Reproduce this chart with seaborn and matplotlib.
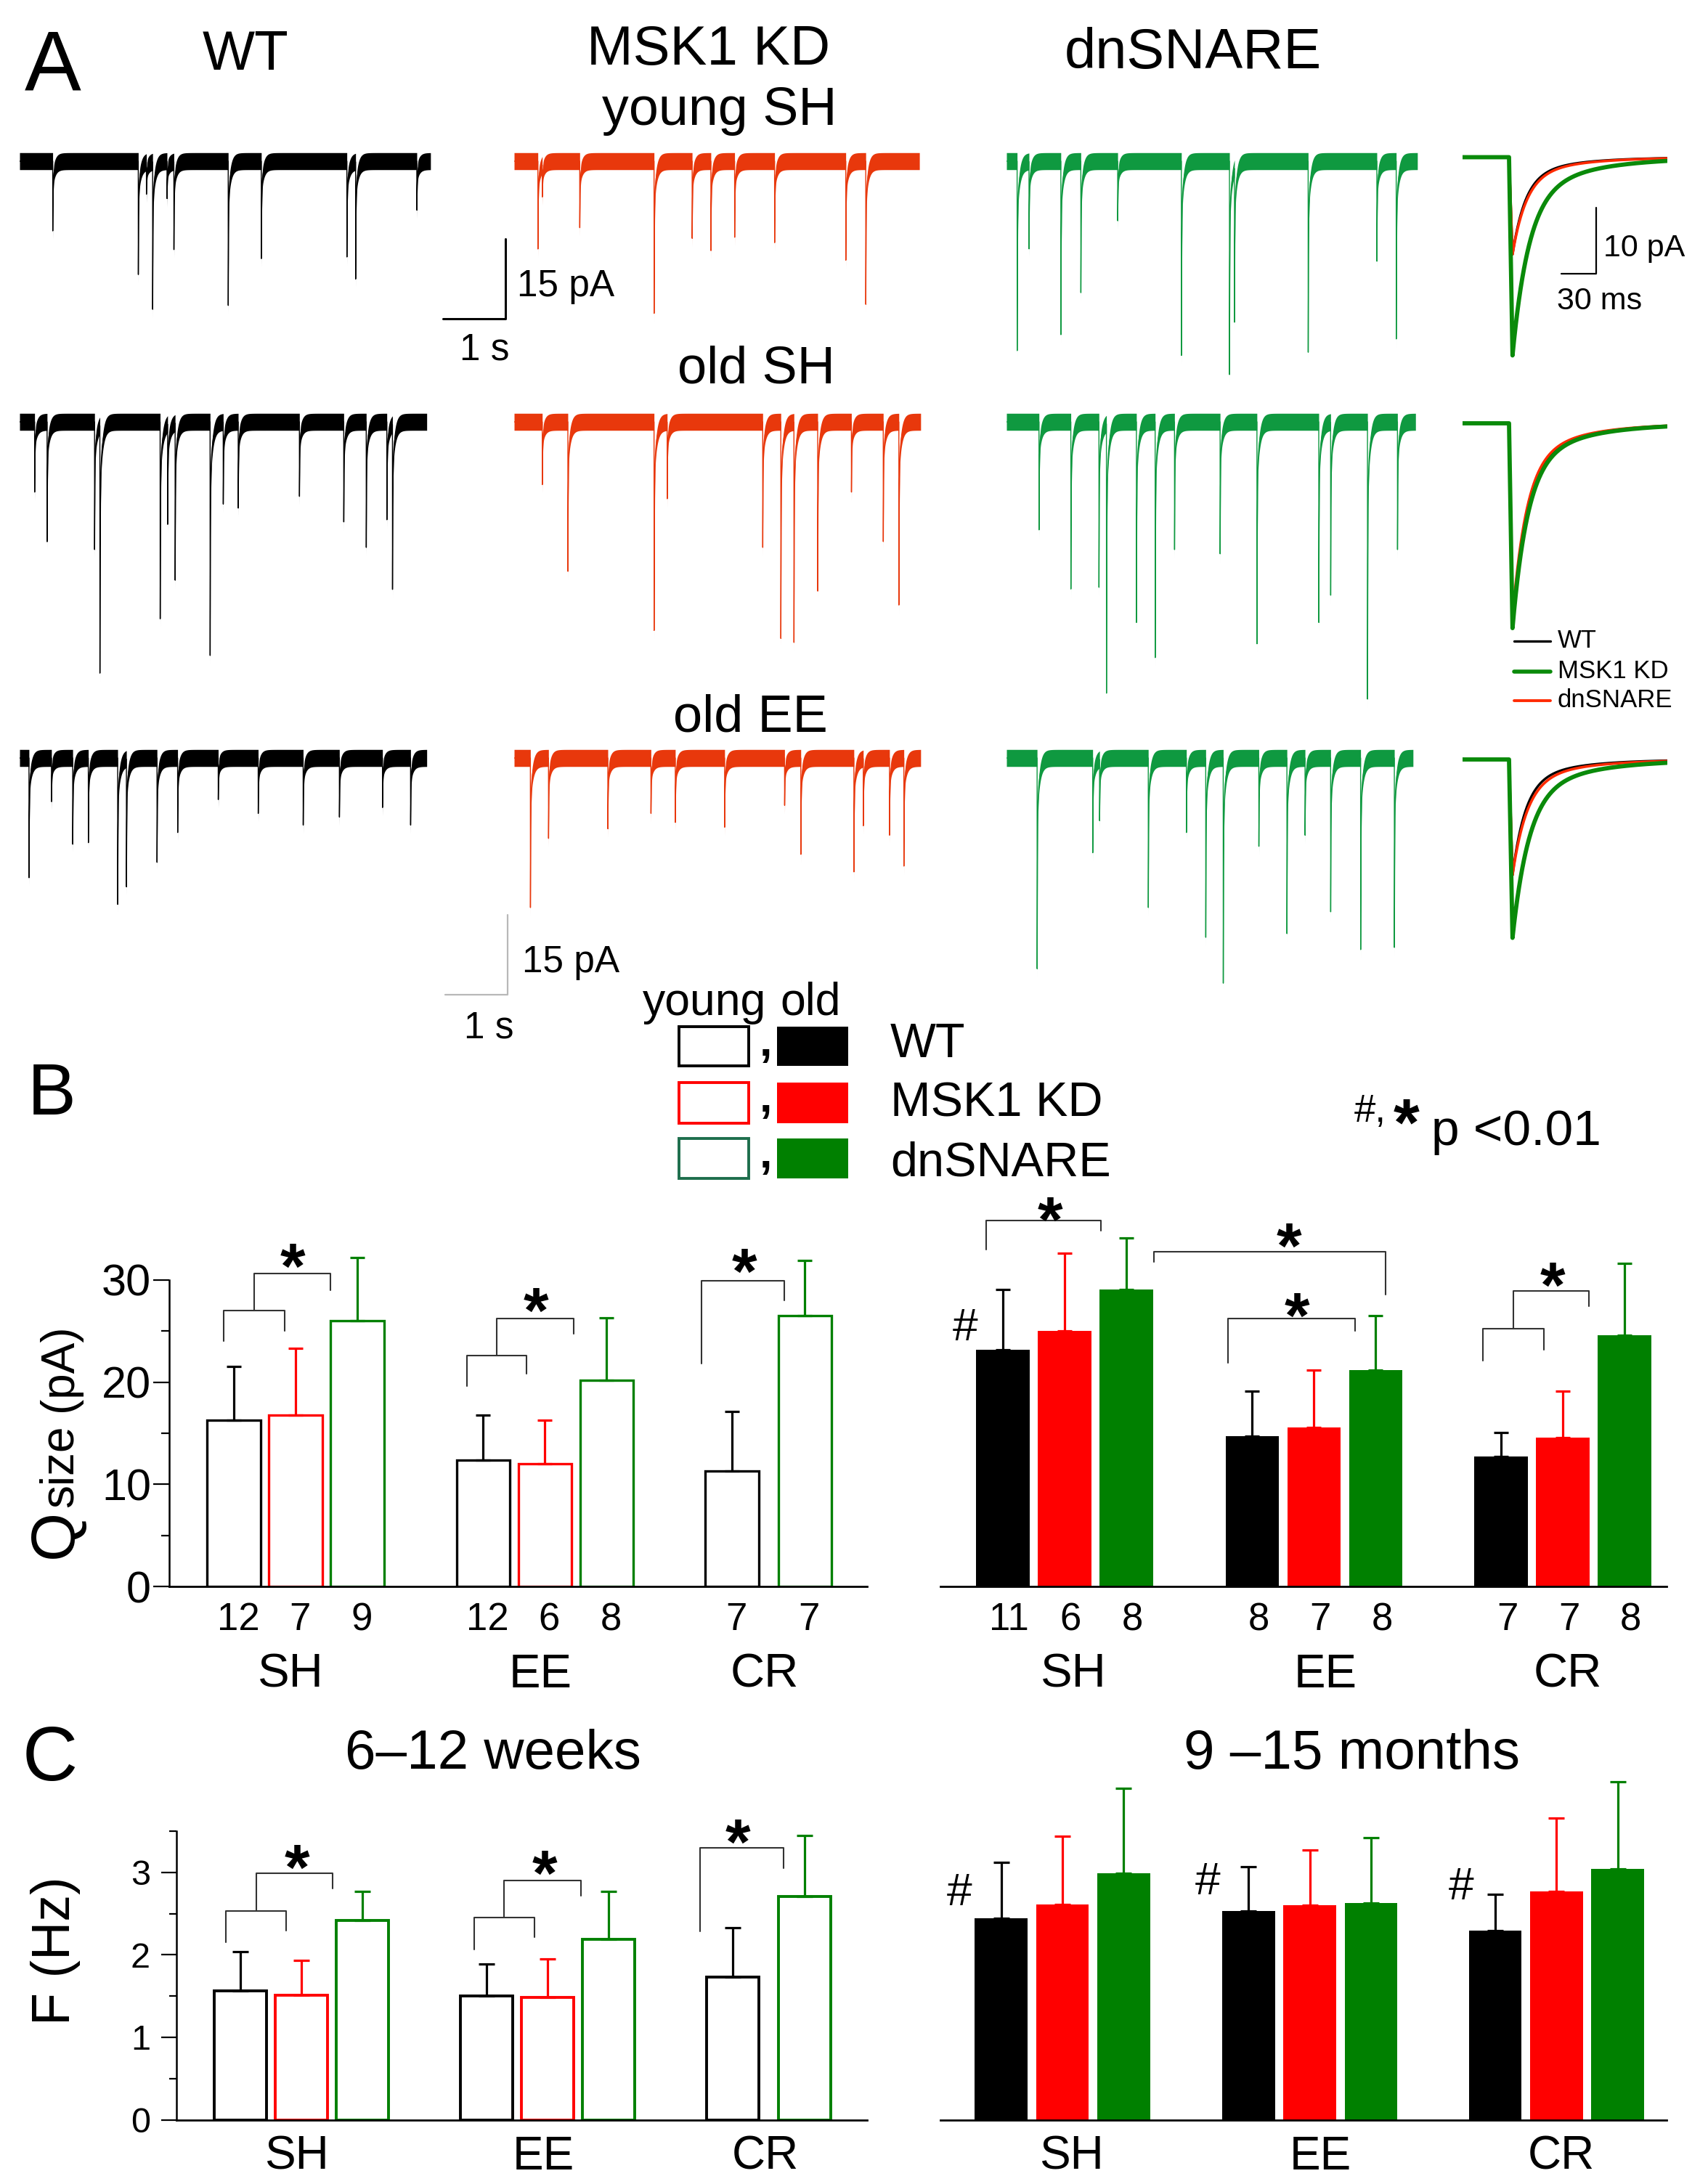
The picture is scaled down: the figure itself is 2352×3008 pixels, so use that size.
import numpy as np
import pandas as pd
import matplotlib
matplotlib.use("Agg")
import matplotlib.pyplot as plt
import seaborn as sns
from matplotlib.patches import Rectangle

# ---------------- data ----------------
genotypes = ["WT", "MSK1 KD", "dnSNARE"]
conditions = ["SH", "EE", "CR"]

# panel B, quantal size (pA) - young (6-12 weeks)
qy_geno = ["WT", "MSK1 KD", "dnSNARE", "WT", "MSK1 KD", "dnSNARE", "WT", "dnSNARE"]
qy_mean = [16.3, 16.8, 26.0, 12.4, 12.0, 20.2, 11.3, 26.5]
qy_err = [5.2, 6.5, 6.2, 4.4, 4.3, 6.1, 5.8, 5.4]
qy_n = [12, 7, 9, 12, 6, 8, 7, 7]

# panel B - old (9-15 months)
qo_geno = ["WT", "MSK1 KD", "dnSNARE"] * 3
qo_mean = [23.2, 25.0, 29.1, 14.7, 15.6, 21.2, 12.7, 14.6, 24.6]
qo_err = [5.9, 7.6, 5.0, 4.4, 5.6, 5.3, 2.4, 4.5, 7.0]
qo_n = [11, 6, 8, 8, 7, 8, 7, 7, 8]

# panel C, frequency (Hz)
fy_mean = [1.56, 1.51, 2.42, 1.50, 1.48, 2.19, 1.73, 2.71]
fy_err = [0.48, 0.42, 0.35, 0.39, 0.47, 0.58, 0.60, 0.74]
fo_mean = [2.44, 2.61, 2.99, 2.53, 2.60, 2.63, 2.29, 2.77, 3.04]
fo_err = [0.68, 0.83, 1.03, 0.54, 0.67, 0.79, 0.44, 0.89, 1.06]

# panel A, mEPSC events: (time s, amplitude pA)
ev_wt_ysh = [(0.53, 13.1), (1.90, 21.3), (2.03, 6.0), (2.13, 27.7), (2.36, 7.0), (2.47, 16.5),
             (3.34, 27.1), (3.87, 18.3), (5.24, 18.0), (5.38, 22.0), (6.36, 9.2)]
ev_msk_ysh = [(0.38, 16.5), (0.45, 6.0), (1.05, 12.5), (2.24, 28.6), (2.85, 14.5), (3.15, 16.8),
              (3.53, 14.3), (4.17, 15.3), (5.31, 18.6), (5.63, 26.9)]
ev_dn_ysh = [(0.17, 35.6), (0.36, 16.4), (0.87, 32.6), (1.19, 24.7), (1.78, 11.2), (2.80, 36.5),
             (3.57, 40.1), (3.65, 28.9), (4.83, 35.9), (5.93, 18.8), (6.24, 33.4)]
ev_wt_osh = [(0.24, 13.2), (0.44, 22.5), (1.20, 24.0), (1.285, 46.5), (2.25, 37.0), (2.37, 18.8),
             (2.49, 29.5), (3.05, 43.9), (3.26, 15.4), (3.50, 16.2), (4.48, 14.0), (5.19, 18.8),
             (5.55, 23.6), (5.88, 18.4), (5.97, 31.0)]
ev_msk_osh = [(0.45, 11.8), (0.86, 28.1), (2.24, 39.2), (2.45, 14.4), (3.98, 23.6), (4.27, 40.7),
              (4.48, 41.4), (4.86, 31.8), (5.40, 13.2), (5.91, 22.5), (6.16, 34.4)]
ev_dn_osh = [(0.52, 20.3), (1.03, 31.4), (1.48, 31.1), (1.60, 50.6), (2.08, 37.7), (2.38, 44.3),
             (2.69, 24.0), (3.42, 24.8), (4.01, 41.7), (5.00, 37.7), (5.19, 32.5), (5.78, 52.1),
             (6.26, 24.0)]
ev_wt_oee = [(0.15, 22.5), (0.51, 8.2), (0.85, 16.2), (1.10, 15.9), (1.57, 27.5), (1.71, 24.0),
             (2.20, 19.6), (2.53, 14.0), (3.18, 7.8), (3.82, 10.4), (4.54, 12.6), (5.12, 11.1),
             (5.81, 9.3), (6.26, 12.6)]
ev_msk_oee = [(0.26, 28.1), (0.55, 15.1), (1.50, 13.3), (2.19, 10.4), (2.58, 12.1), (3.37, 13.0),
              (4.33, 8.9), (4.59, 18.1), (5.44, 21.4), (5.59, 12.6), (6.01, 14.5), (6.24, 20.3)]
ev_dn_oee = [(0.49, 39.6), (1.38, 17.8), (1.49, 11.5), (2.27, 28.1), (2.88, 14.0), (3.19, 33.7),
             (3.47, 42.3), (4.04, 16.6), (4.49, 33.0), (4.78, 14.5), (5.19, 28.9), (5.67, 36.0),
             (6.21, 35.6)]
trace_dur = [[6.58, 6.49, 6.58], [6.52, 6.51, 6.55], [6.52, 6.51, 6.51]]

# averaged mEPSCs per row (peak pA, decay tau ms)
avg_amp_wt = [14.7, 31.0, 17.5]
avg_amp_msk = [30.0, 31.0, 27.0]
avg_amp_dn = [14.7, 29.5, 17.5]
avg_tau_wt = [11, 12, 11]
avg_tau_msk = [14, 13, 14]
avg_tau_dn = [12, 12, 12.5]

# ---------------- style ----------------
sns.set_theme(style="ticks", rc={"axes.edgecolor": "black", "text.color": "black",
                                 "xtick.color": "black", "ytick.color": "black",
                                 "axes.labelcolor": "black"})
plt.rcParams["font.family"] = ["Liberation Sans", "DejaVu Sans"]

W, H, DPI = 2352, 3008, 100
bar_pal = {"WT": "#000000", "MSK1 KD": "#ff0000", "dnSNARE": "#008000"}
trace_col = ["#000000", "#e8380c", "#0f9940"]
avg_col = {"WT": "#000000", "MSK1 KD": "#0a8a0a", "dnSNARE": "#ff2a00"}
br_col = "#333333"

fig = plt.figure(figsize=(W / DPI, H / DPI), dpi=DPI)
ov = fig.add_axes([0, 0, 1, 1], zorder=-1)
ov.set_xlim(0, W)
ov.set_ylim(H, 0)
ov.axis("off")


def txt(x, y, s, fs, ha="left", va="baseline", **kw):
    ov.text(x, y, s, fontsize=fs, ha=ha, va=va, **kw)


def px_axes(left, base, xspan, px_x, px_y, ylo, yhi):
    top = base - yhi * px_y
    bot = base - ylo * px_y
    ax = fig.add_axes([left / W, 1 - bot / H, xspan * px_x / W, (bot - top) / H])
    ax.set_xlim(0, xspan)
    ax.set_ylim(ylo, yhi)
    ax.axis("off")
    ax.patch.set_alpha(0)
    return ax


# ---------------- panel A: raw traces ----------------
PX_S, PX_PA = 86.0, 7.33
DT, RISE, TAU_F, TAU_S = 0.0005, 0.001, 0.005, 0.04
NOISE = 1.6


def event_trace(events, dur):
    t = np.arange(0, dur, DT)
    y = np.zeros_like(t)
    for t0, a in events:
        s = t - t0
        d = np.clip(s - RISE, 0, None)
        k = np.where(s < 0, 0.0, np.where(s < RISE, s / RISE,
                     0.75 * np.exp(-d / TAU_F) + 0.25 * np.exp(-d / TAU_S)))
        y -= a * k
    return t, y


rows = [[ev_wt_ysh, ev_msk_ysh, ev_dn_ysh],
        [ev_wt_osh, ev_msk_osh, ev_dn_osh],
        [ev_wt_oee, ev_msk_oee, ev_dn_oee]]
col_left = [27, 708, 1386]
row_base = [222, 581, 1044]
trace_axes = {}
for r, row in enumerate(rows):
    for c, evs in enumerate(row):
        ax = px_axes(col_left[c], row_base[r], trace_dur[r][c], PX_S, PX_PA, -60, 8)
        t, y = event_trace(evs, trace_dur[r][c])
        ax.fill_between(t, y - NOISE, y + NOISE, color=trace_col[c], lw=0)
        ax.plot(t, y, color=trace_col[c], lw=1.0)
        trace_axes[(r, c)] = ax

# scale bars (1 s, 15 pA)
a1 = trace_axes[(0, 0)]
a1.plot([6.78, 7.78, 7.78], [-29.6, -29.6, -14.6], color="black", lw=2.2, clip_on=False)
a3 = trace_axes[(2, 0)]
a3.plot([6.81, 7.81, 7.81], [-44.5, -44.5, -29.5], color="#b8b8b8", lw=1.6, clip_on=False)

# averaged traces
PX_MS, PX_PA_AVG = 1.6, 9.1
AVG_ONSET, AVG_RISE = 40.0, 3.0
avg_base = [216.5, 583, 1046]


def avg_wave(t, amp, tau):
    s = t - AVG_ONSET
    rise = np.clip(s / AVG_RISE, 0, 1)
    d = np.clip(s - AVG_RISE, 0, None)
    decay = 0.8 * np.exp(-d / tau) + 0.2 * np.exp(-d / (4 * tau))
    return -amp * rise * decay


t_avg = np.arange(0, 176, 0.2)
avg_axes = []
for r in range(3):
    ax = px_axes(2014, avg_base[r], 176, PX_MS, PX_PA_AVG, -34, 4)
    for name, amps, taus, lw in [("WT", avg_amp_wt, avg_tau_wt, 2.4),
                                 ("dnSNARE", avg_amp_dn, avg_tau_dn, 2.6),
                                 ("MSK1 KD", avg_amp_msk, avg_tau_msk, 4.2)]:
        ax.plot(t_avg, avg_wave(t_avg, amps[r], taus[r]), color=avg_col[name], lw=lw,
                solid_capstyle="round")
    avg_axes.append(ax)
avg_axes[0].plot([85, 115, 115], [-17.6, -17.6, -7.6], color="black", lw=1.6, clip_on=False)

# legend of averaged traces
for yy, name, lw in [(883, "WT", 2.4), (925, "MSK1 KD", 4.0), (965, "dnSNARE", 2.8)]:
    ov.plot([2085, 2135], [yy, yy], color=avg_col[name], lw=lw)
    txt(2145, yy, name, 25, va="center")

# panel A texts
txt(34, 125, "A", 84)
txt(338, 96, "WT", 55, ha="center")
txt(976, 89, "MSK1 KD", 55, ha="center")
txt(991, 172, "young SH", 53, ha="center")
txt(1643, 94, "dnSNARE", 56, ha="center")
txt(1041, 527, "old SH", 52, ha="center")
txt(1033, 1007, "old EE", 52, ha="center")
txt(712, 408, "15 pA", 37)
txt(667, 495, "1 s", 37, ha="center")
txt(719, 1339, "15 pA", 37)
txt(673, 1430, "1 s", 37, ha="center")
txt(2208, 353, "10 pA", 31)
txt(2203, 426, "30 ms", 31, ha="center")

# ---------------- legend for B/C ----------------
txt(38, 1535, "B", 72)
txt(970, 1398, "young", 45, ha="center")
txt(1116, 1398, "old", 45, ha="center")
leg_rows = [(1414, 54, "WT", "#000000", "#000000", 1456),
            (1491, 56, "MSK1 KD", "#ff0000", "#ff0000", 1538),
            (1568, 55, "dnSNARE", "#1d6e4c", "#008000", 1619)]
for top, h, name, ec, fc, base in leg_rows:
    ov.add_patch(Rectangle((935, top), 96, h, fill=False, edgecolor=ec, lw=2.8))
    ov.add_patch(Rectangle((1070, top), 98, h, facecolor=fc, edgecolor="none"))
    txt(1054, top + 40, ",", 45, ha="center", fontweight="bold")
    txt(1226, base, name, 48)
txt(1865, 1545, "#,", 38)
ov.annotate("*", xy=(1937, 1525), xytext=(0, -0.57 * 66), textcoords="offset points",
            ha="center", va="baseline", fontsize=66, fontweight="bold")
txt(1971, 1577, "p <0.01", 50)

# ---------------- bar panels ----------------
young_pos = [-1, 0, 1, 3.04, 4.04, 5.04, 7.07, 8.25]
old_pos = [-1, 0, 1, 3.04, 4.04, 5.04, 7.07, 8.07, 9.07]
young_lab = [-0.08, 3.97, 7.6]
old_lab = [0.15, 4.22, 8.15]


def bar_panel(geom, pos, genos, means, errs, filled, edge_lw, cap):
    left, right, x0, slot, zero, unit, ytop = geom
    top = zero - ytop * unit
    ax = fig.add_axes([left / W, 1 - zero / H, (right - left) / W, (zero - top) / H])
    df = pd.DataFrame({"pos": pos, "mean": means, "geno": genos})
    sns.barplot(data=df, x="pos", y="mean", hue="geno", hue_order=genotypes, palette=bar_pal,
                native_scale=True, dodge=False, width=0.86, fill=filled, errorbar=None,
                saturation=1, legend=False, orient="x", ax=ax,
                linewidth=0 if filled else edge_lw)
    for x, m, e, g in zip(pos, means, errs, genos):
        ax.errorbar(x, m, yerr=[[0], [e]], fmt="none", ecolor=bar_pal[g], elinewidth=2.3,
                    capsize=cap, capthick=2.3, zorder=3)
    ax.set_xlim((left - x0) / slot, (right - x0) / slot)
    ax.set_ylim(0, ytop)
    ax.set_xlabel("")
    ax.set_ylabel("")
    ax.set_xticks([])
    ax.patch.set_alpha(0)
    sns.despine(ax=ax)
    ax.spines["bottom"].set_linewidth(2.0)
    ax.spines["left"].set_linewidth(1.8)
    return ax


def bracket(ax, x1, x2, y, yl, yr):
    ax.plot([x1, x1, x2, x2], [yl, y, y, yr], color=br_col, lw=1.5, clip_on=False)


def mark(ax, x, y, s, fs, frac, bold=False):
    ax.annotate(s, xy=(x, y), xytext=(0, -frac * fs), textcoords="offset points",
                ha="center", va="baseline", fontsize=fs,
                fontweight="bold" if bold else "normal", annotation_clip=False)


def under(ax, x, s, fs, dy_px):
    ax.annotate(s, xy=(x, 0), xytext=(0, -dy_px * 0.72), textcoords="offset points",
                ha="center", va="baseline", fontsize=fs, annotation_clip=False)


# B left (young)
axb1 = bar_panel((233, 1194, 407, 85, 2185, 14.07, 36), young_pos, qy_geno, qy_mean, qy_err,
                 False, 2.4, 7)
axb1.spines["left"].set_bounds(0, 30)
axb1.set_yticks([0, 10, 20, 30])
axb1.set_yticks([5, 15, 25], minor=True)
axb1.tick_params(axis="y", which="major", length=16, width=1.6, labelsize=44, pad=2)
axb1.tick_params(axis="y", which="minor", length=8, width=1.6)
for x, n in zip(young_pos, qy_n):
    under(axb1, x + 0.07, str(n), 38, 60)
for x, s in zip(young_lab, conditions):
    under(axb1, x, s, 47, 139)
bracket(axb1, -1.165, -0.176, 27.0, 24.0, 25.0)
bracket(axb1, -0.67, 0.565, 30.6, 27.0, 29.0)
mark(axb1, -0.05, 32.8, "*", 64, 0.57, True)
bracket(axb1, 2.776, 3.741, 22.6, 19.6, 20.8)
bracket(axb1, 3.26, 4.506, 26.2, 22.6, 24.7)
mark(axb1, 3.894, 28.5, "*", 64, 0.57, True)
bracket(axb1, 6.576, 7.918, 29.9, 21.8, 28.0)
mark(axb1, 7.271, 32.3, "*", 64, 0.57, True)

# B right (old)
axb2 = bar_panel((1295, 2295, 1466, 85, 2185, 14.07, 38), old_pos, qo_geno, qo_mean, qo_err,
                 True, 0, 7)
axb2.spines["left"].set_visible(False)
axb2.set_yticks([])
for x, n in zip(old_pos, qo_n):
    under(axb2, x + 0.1, str(n), 38, 60)
for x, s in zip(old_lab, conditions):
    under(axb2, x, s, 47, 139)
bracket(axb2, -1.27, 0.588, 35.8, 33.0, 34.8)
mark(axb2, -0.235, 37.4, "*", 64, 0.57, True)
bracket(axb2, 1.447, 5.2, 32.8, 31.8, 28.6)
mark(axb2, 3.635, 34.8, "*", 64, 0.57, True)
bracket(axb2, 2.647, 4.706, 26.2, 21.9, 25.0)
mark(axb2, 3.765, 28.0, "*", 64, 0.57, True)
bracket(axb2, 6.776, 7.765, 25.2, 22.1, 23.2)
bracket(axb2, 7.27, 8.494, 28.9, 25.2, 27.4)
mark(axb2, 7.906, 31.0, "*", 64, 0.57, True)
mark(axb2, -1.61, 25.7, "#", 45, 0.36)

# y label of B
ov.text(99.5, 2112, "Q", fontsize=62, rotation=90, rotation_mode="anchor", ha="center", va="baseline")
ov.text(99.5, 2019, "size", fontsize=46, rotation=90, rotation_mode="anchor", ha="center", va="baseline")
ov.text(99.5, 1884, "(pA)", fontsize=46, rotation=90, rotation_mode="anchor", ha="center", va="baseline")

# ---------------- panel C ----------------
txt(31, 2452, "C", 76)
txt(679, 2436, "6–12 weeks", 55, ha="center")
txt(1861, 2436, "9 –15 months", 55, ha="center")
ov.text(96, 2687, "F (Hz)", fontsize=53, rotation=90, rotation_mode="anchor", ha="center", va="baseline")

axc1 = bar_panel((243, 1194, 415, 84, 2919.5, 113.6, 3.7), young_pos, qy_geno, fy_mean, fy_err,
                 False, 2.8, 8)
axc1.spines["left"].set_bounds(0, 3.5)
axc1.set_yticks([0, 1, 2, 3])
axc1.set_yticks([0.5, 1.5, 2.5, 3.5], minor=True)
axc1.tick_params(axis="y", which="major", length=15, width=1.6, labelsize=35, pad=11)
axc1.tick_params(axis="y", which="minor", length=7, width=1.6)
for x, s in zip(young_lab, conditions):
    under(axc1, x, s, 46, 68)
bracket(axc1, -1.238, -0.25, 2.53, 2.15, 2.29)
bracket(axc1, -0.744, 0.512, 2.99, 2.53, 2.80)
mark(axc1, -0.07, 3.24, "*", 64, 0.57, True)
bracket(axc1, 2.833, 3.821, 2.45, 2.06, 2.21)
bracket(axc1, 3.327, 4.583, 2.90, 2.45, 2.72)
mark(axc1, 3.988, 3.17, "*", 64, 0.57, True)
bracket(axc1, 6.536, 7.905, 3.30, 2.28, 3.05)
mark(axc1, 7.155, 3.55, "*", 64, 0.57, True)

axc2 = bar_panel((1295, 2295, 1463, 84.3, 2919.5, 113.6, 4.25), old_pos, qo_geno, fo_mean, fo_err,
                 True, 0, 8)
axc2.spines["left"].set_visible(False)
axc2.set_yticks([])
for x, s in zip(old_lab, conditions):
    under(axc2, x, s, 46, 68)
for x, y in [(-1.684, 2.80), (2.372, 2.93), (6.51, 2.87)]:
    mark(axc2, x, y, "#", 45, 0.36)

fig.savefig("out.png", dpi=DPI)
